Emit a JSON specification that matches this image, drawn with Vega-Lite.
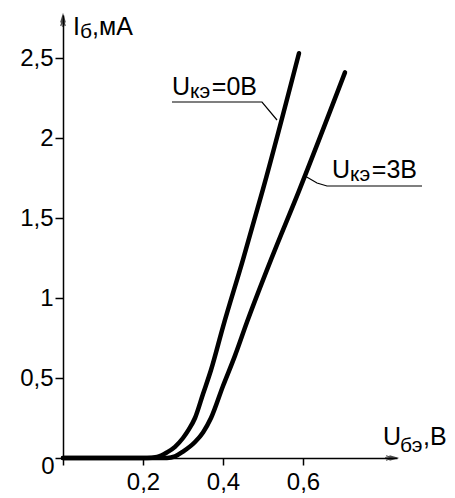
{
  "$schema": "https://vega.github.io/schema/vega-lite/v6.json",
  "width": 334,
  "height": 443,
  "autosize": {"type": "none"},
  "padding": {"left": 63, "top": 15, "right": 58, "bottom": 40},
  "background": "white",
  "config": {"view": {"stroke": null}, "font": "Liberation Sans"},
  "datasets": {
    "curves": [
      {"s": "0", "u": 0, "i": 0}, {"s": "0", "u": 0.21, "i": 0}, {"s": "0", "u": 0.235, "i": 0.006},
      {"s": "0", "u": 0.26, "i": 0.035}, {"s": "0", "u": 0.28, "i": 0.07}, {"s": "0", "u": 0.3, "i": 0.125},
      {"s": "0", "u": 0.315, "i": 0.18}, {"s": "0", "u": 0.33, "i": 0.25}, {"s": "0", "u": 0.35, "i": 0.4},
      {"s": "0", "u": 0.37, "i": 0.55}, {"s": "0", "u": 0.4, "i": 0.82}, {"s": "0", "u": 0.45, "i": 1.24},
      {"s": "0", "u": 0.5, "i": 1.68}, {"s": "0", "u": 0.59, "i": 2.53},
      {"s": "3", "u": 0, "i": 0}, {"s": "3", "u": 0.26, "i": 0}, {"s": "3", "u": 0.28, "i": 0.01},
      {"s": "3", "u": 0.3, "i": 0.04}, {"s": "3", "u": 0.33, "i": 0.1}, {"s": "3", "u": 0.35, "i": 0.16},
      {"s": "3", "u": 0.37, "i": 0.25}, {"s": "3", "u": 0.4, "i": 0.45}, {"s": "3", "u": 0.43, "i": 0.64},
      {"s": "3", "u": 0.46, "i": 0.85}, {"s": "3", "u": 0.52, "i": 1.24}, {"s": "3", "u": 0.59, "i": 1.67},
      {"s": "3", "u": 0.705, "i": 2.41}
    ],
    "leaders": [
      {"id": "a", "k": 1, "u": 0.2725, "i": 2.225}, {"id": "a", "k": 2, "u": 0.4975, "i": 2.225}, {"id": "a", "k": 3, "u": 0.535, "i": 2.1125},
      {"id": "b", "k": 1, "u": 0.605, "i": 1.7625}, {"id": "b", "k": 2, "u": 0.635, "i": 1.71875}, {"id": "b", "k": 3, "u": 0.66, "i": 1.7}, {"id": "b", "k": 4, "u": 0.8975, "i": 1.7}
    ],
    "mainText": [
      {"u": 0.2725, "i": 2.269, "t": "U"}, {"u": 0.372, "i": 2.269, "t": "=0В"},
      {"u": 0.6725, "i": 1.75, "t": "U"}, {"u": 0.772, "i": 1.75, "t": "=3В"},
      {"u": 0.025, "i": 2.644, "t": "I"}, {"u": 0.0725, "i": 2.644, "t": ",мА"},
      {"u": 0.8, "i": 0.081, "t": "U"}, {"u": 0.9, "i": 0.081, "t": ",В"}
    ],
    "subText": [
      {"u": 0.3175, "i": 2.25, "t": "кэ"}, {"u": 0.7175, "i": 1.731, "t": "кэ"},
      {"u": 0.0425, "i": 2.625, "t": "б"}, {"u": 0.8425, "i": 0.0375, "t": "бэ"}
    ],
    "arrowX": [{"u": 0.835, "i": 0}],
    "arrowY": [{"u": 0, "i": 2.76875}],
    "origin": [{"u": 0, "i": 0, "t": "0"}]
  },
  "layer": [
    {
      "data": {"name": "curves"},
      "mark": {"type": "line", "color": "black", "strokeWidth": 4.5, "interpolate": "monotone", "strokeCap": "round", "strokeJoin": "round"},
      "encoding": {
        "x": {
          "field": "u", "type": "quantitative",
          "scale": {"domain": [0, 0.835], "nice": false, "zero": false},
          "axis": {
            "title": null, "grid": false, "values": [0, 0.2, 0.4, 0.6],
            "domainColor": "black", "domainWidth": 1.5, "tickColor": "black", "tickWidth": 1.5, "tickSize": 7,
            "labelFontSize": 24, "labelColor": "black", "labelPadding": 5, "labelFont": "Liberation Sans",
            "labelExpr": "datum.value == 0 ? '' : replace(format(datum.value, '~g'), '.', ',')"
          }
        },
        "y": {
          "field": "i", "type": "quantitative",
          "scale": {"domain": [0, 2.76875], "nice": false, "zero": false},
          "axis": {
            "title": null, "grid": false, "values": [0, 0.5, 1, 1.5, 2, 2.5],
            "domainColor": "black", "domainWidth": 1.5, "tickColor": "black", "tickWidth": 1.5, "tickSize": 8,
            "labelFontSize": 24, "labelColor": "black", "labelPadding": 2, "labelFont": "Liberation Sans",
            "labelExpr": "datum.value == 0 ? '' : replace(format(datum.value, '~g'), '.', ',')"
          }
        },
        "detail": {"field": "s"}
      }
    },
    {
      "data": {"name": "leaders"},
      "mark": {"type": "line", "color": "black", "strokeWidth": 1.2},
      "encoding": {
        "x": {"field": "u", "type": "quantitative"},
        "y": {"field": "i", "type": "quantitative"},
        "detail": {"field": "id"},
        "order": {"field": "k"}
      }
    },
    {
      "data": {"name": "mainText"},
      "mark": {"type": "text", "fontSize": 25, "align": "left", "baseline": "alphabetic", "color": "black", "font": "Liberation Sans"},
      "encoding": {
        "x": {"field": "u", "type": "quantitative"},
        "y": {"field": "i", "type": "quantitative"},
        "text": {"field": "t"}
      }
    },
    {
      "data": {"name": "subText"},
      "mark": {"type": "text", "fontSize": 21, "align": "left", "baseline": "alphabetic", "color": "black", "font": "Liberation Sans"},
      "encoding": {
        "x": {"field": "u", "type": "quantitative"},
        "y": {"field": "i", "type": "quantitative"},
        "text": {"field": "t"}
      }
    },
    {
      "data": {"name": "origin"},
      "mark": {"type": "text", "fontSize": 24, "align": "center", "baseline": "middle", "dx": -15, "dy": 9, "color": "black", "font": "Liberation Sans"},
      "encoding": {
        "x": {"field": "u", "type": "quantitative"},
        "y": {"field": "i", "type": "quantitative"},
        "text": {"field": "t"}
      }
    },
    {
      "data": {"name": "arrowX"},
      "mark": {"type": "point", "shape": "M-1.5,-0.45L0,0L-1.5,0.45M-2.2,-0.45L-0.8,0L-2.2,0.45M-2.4,0L0,0", "size": 100, "filled": false, "stroke": "black", "strokeWidth": 1.3},
      "encoding": {
        "x": {"field": "u", "type": "quantitative"},
        "y": {"field": "i", "type": "quantitative"}
      }
    },
    {
      "data": {"name": "arrowY"},
      "mark": {"type": "point", "shape": "M-0.45,1.5L0,0L0.45,1.5M-0.45,2.2L0,0.8L0.45,2.2M0,2.4L0,0", "size": 100, "filled": false, "stroke": "black", "strokeWidth": 1.3},
      "encoding": {
        "x": {"field": "u", "type": "quantitative"},
        "y": {"field": "i", "type": "quantitative"}
      }
    }
  ]
}
